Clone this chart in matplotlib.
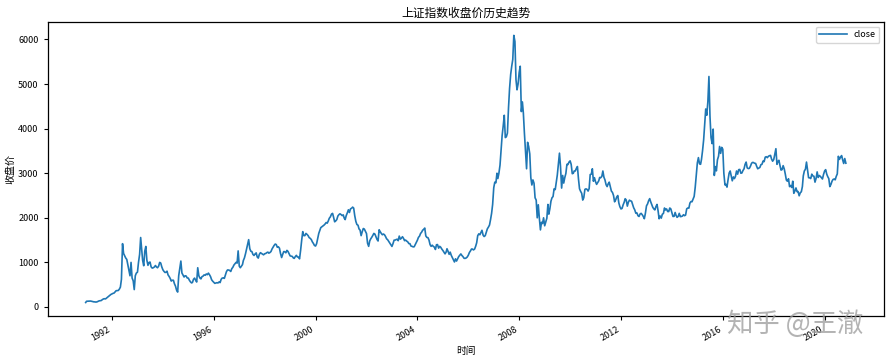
import matplotlib
matplotlib.use("Agg")
import matplotlib.pyplot as plt
import matplotlib.dates as mdates
import pandas as pd

plt.rcParams['font.family'] = ['Noto Sans CJK SC', 'DejaVu Sans']

title = "上证指数收盘价历史趋势"
xlabel = "时间"
ylabel = "收盘价"
series_name = "close"
yticks = [0, 1000, 2000, 3000, 4000, 5000, 6000]

# first trading days
first_dates = ["1990-12-19", "1990-12-31"]
first_values = [100, 128]

# semi-monthly readings (mid-month, month-end), Jan 1991 .. Oct 2020
close = [
    # 1991
    130, 130, 132, 133, 127, 120, 115, 114, 110, 115, 125, 137,
    140, 145, 165, 180, 185, 181, 200, 218, 240, 260, 280, 293,
    # 1992
    305, 313, 340, 365, 368, 370, 400, 445, 620, 1420, 1200, 1150,
    1100, 1066, 950, 823, 700, 1000, 650, 587, 390, 700, 760, 780,
    # 1993
    1000, 1180, 1558, 1320, 1050, 925, 1250, 1358, 1050, 934, 1000, 1007,
    900, 872, 880, 897, 930, 897, 880, 916, 1000, 985, 900, 834,
    # 1994
    800, 774, 780, 803, 720, 683, 640, 581, 600, 599, 520, 467,
    380, 334, 700, 871, 1030, 763, 720, 672, 700, 694, 650, 648,
    # 1995
    600, 563, 540, 549, 620, 648, 600, 560, 880, 700, 650, 630,
    680, 693, 720, 712, 740, 725, 760, 723, 680, 612, 580, 555,
    # 1996
    530, 537, 545, 538, 560, 547, 620, 649, 650, 642, 720, 791,
    830, 829, 820, 796, 860, 890, 940, 972, 1000, 984, 1258, 917,
    # 1997
    880, 914, 950, 1044, 1100, 1196, 1300, 1395, 1510, 1308, 1250, 1243,
    1180, 1155, 1190, 1213, 1120, 1097, 1180, 1218, 1200, 1185, 1170, 1194,
    # 1998
    1200, 1220, 1230, 1207, 1220, 1243, 1300, 1341, 1380, 1411, 1400, 1339,
    1350, 1318, 1200, 1109, 1180, 1242, 1240, 1215, 1270, 1246, 1200, 1146,
    # 1999
    1140, 1134, 1100, 1090, 1130, 1158, 1120, 1120, 1080, 1279, 1500, 1690,
    1600, 1601, 1650, 1627, 1600, 1556, 1540, 1512, 1460, 1425, 1380, 1367,
    # 2000
    1420, 1535, 1650, 1714, 1780, 1800, 1820, 1836, 1860, 1894, 1880, 1928,
    1990, 2023, 2080, 2100, 2010, 1910, 1930, 1961, 2040, 2070, 2090, 2073,
    # 2001
    2050, 2066, 1990, 1960, 2050, 2112, 2180, 2119, 2200, 2214, 2240, 2218,
    2050, 1920, 1850, 1834, 1750, 1724, 1600, 1690, 1760, 1747, 1700, 1646,
    # 2002
    1430, 1360, 1480, 1524, 1560, 1603, 1650, 1636, 1580, 1515, 1480, 1732,
    1690, 1651, 1620, 1636, 1620, 1581, 1530, 1507, 1470, 1433, 1400, 1358,
    # 2003
    1420, 1499, 1500, 1511, 1520, 1487, 1590, 1521, 1540, 1576, 1540, 1487,
    1500, 1477, 1460, 1421, 1420, 1367, 1360, 1348, 1350, 1397, 1440, 1497,
    # 2004
    1560, 1590, 1650, 1675, 1720, 1742, 1770, 1595, 1560, 1555, 1500, 1399,
    1360, 1386, 1360, 1342, 1290, 1396, 1400, 1320, 1360, 1340, 1300, 1267,
    # 2005
    1230, 1191, 1230, 1306, 1250, 1181, 1230, 1159, 1110, 1060, 1010, 1080,
    1030, 1083, 1130, 1162, 1190, 1155, 1130, 1092, 1090, 1099, 1120, 1161,
    # 2006
    1220, 1258, 1300, 1299, 1280, 1298, 1360, 1440, 1600, 1641, 1620, 1672,
    1720, 1612, 1580, 1601, 1680, 1752, 1790, 1837, 1960, 2099, 2300, 2675,
    # 2007
    2800, 2786, 3000, 2881, 3000, 3183, 3500, 3841, 4050, 4300, 3800, 3820,
    3900, 4471, 4900, 5218, 5400, 5552, 6092, 5954, 5100, 4871, 5000, 5262,
    # 2008
    5400, 4383, 4600, 4348, 3900, 3473, 3100, 3693, 3600, 3433, 2900, 2736,
    2850, 2775, 2450, 2397, 2000, 2293, 2000, 1729, 1900, 1871, 2000, 1821,
    # 2009
    1900, 1991, 2300, 2082, 2200, 2373, 2450, 2477, 2650, 2632, 2800, 2959,
    3200, 3450, 3150, 2667, 2950, 2779, 2900, 2995, 3200, 3195, 3250, 3277,
    # 2010
    3200, 2989, 3000, 3051, 3050, 3110, 3150, 2870, 2650, 2592, 2550, 2398,
    2450, 2638, 2650, 2638, 2600, 2656, 2970, 2979, 3100, 2820, 2900, 2808,
    # 2011
    2750, 2790, 2830, 2905, 2900, 2928, 3050, 2911, 2850, 2743, 2700, 2762,
    2800, 2701, 2600, 2568, 2500, 2359, 2400, 2468, 2500, 2333, 2250, 2199,
    # 2012
    2210, 2292, 2350, 2428, 2400, 2262, 2350, 2396, 2380, 2372, 2300, 2225,
    2180, 2103, 2110, 2047, 2030, 2086, 2100, 2069, 2030, 1980, 2100, 2269,
    # 2013
    2310, 2385, 2430, 2365, 2300, 2236, 2200, 2177, 2250, 2300, 2160, 1979,
    2040, 1993, 2080, 2098, 2220, 2175, 2200, 2141, 2140, 2220, 2200, 2116,
    # 2014
    2030, 2033, 2120, 2056, 2010, 2033, 2100, 2026, 2030, 2039, 2070, 2048,
    2060, 2201, 2220, 2217, 2330, 2364, 2360, 2420, 2480, 2683, 2950, 3235,
    # 2015
    3350, 3210, 3200, 3310, 3500, 3748, 4100, 4441, 4300, 4612, 5170, 4277,
    3800, 3664, 3990, 2950, 3150, 3053, 3300, 3383, 3600, 3445, 3580, 3539,
    # 2016
    3000, 2738, 2750, 2688, 2850, 3004, 3050, 2938, 2830, 2917, 2880, 2930,
    3050, 2979, 3080, 3085, 3000, 3005, 3060, 3100, 3200, 3250, 3120, 3104,
    # 2017
    3110, 3159, 3220, 3242, 3240, 3223, 3220, 3155, 3100, 3117, 3130, 3192,
    3200, 3273, 3260, 3361, 3370, 3349, 3380, 3393, 3400, 3317, 3270, 3307,
    # 2018
    3420, 3550, 3200, 3259, 3290, 3169, 3070, 3082, 3170, 3095, 2980, 2847,
    2820, 2876, 2700, 2725, 2680, 2821, 2550, 2603, 2670, 2588, 2590, 2494,
    # 2019
    2560, 2585, 2700, 2941, 3050, 3091, 3250, 3078, 2900, 2898, 2880, 2979,
    2940, 2932, 2800, 2886, 3030, 2905, 2950, 2929, 2900, 2871, 2970, 3050,
    # 2020 (Jan..Oct)
    3080, 2977, 2920, 2880, 2700, 2750, 2820, 2860, 2870, 2852, 2930, 2985,
    3380, 3310, 3360, 3396, 3300, 3218, 3330, 3225,
]

dates = [pd.Timestamp(d) for d in first_dates]
for y in range(1991, 2021):
    for m in range(1, 13):
        if y == 2020 and m > 10:
            break
        dates.append(pd.Timestamp(y, m, 15))
        dates.append(pd.Timestamp(y, m, 1) + pd.offsets.MonthEnd(0))
values = first_values + close
assert len(dates) == len(values), (len(dates), len(values))

df = pd.DataFrame({series_name: values}, index=pd.DatetimeIndex(dates))

fig = plt.figure(figsize=(8.91, 3.61), dpi=100)
ax = fig.add_axes([0.0535, 0.125, 0.9385, 0.814])
ax.plot(df.index, df[series_name], color="#1f77b4", lw=1.2, label=series_name)

ax.xaxis.set_major_locator(mdates.YearLocator(4))
ax.xaxis.set_major_formatter(mdates.DateFormatter("%Y"))
ax.set_yticks(yticks)
ax.tick_params(labelsize=6.5, length=3, width=0.8)
for lab in ax.get_xticklabels():
    lab.set_rotation(30)
    lab.set_ha("right")

ax.set_title(title, fontsize=8.5, pad=4)
ax.set_xlabel(xlabel, fontsize=7, labelpad=2)
ax.set_ylabel(ylabel, fontsize=7.2, labelpad=2)
ax.legend(loc="upper right", fontsize=6.5, handlelength=3, frameon=True)
for s in ax.spines.values():
    s.set_linewidth(0.9)

fig.text(0.8925, 0.102, "知乎 @王澈", fontsize=19, color="#9a9a9a", alpha=0.75,
         ha="center", va="center")

fig.savefig("out.png", dpi=100)
